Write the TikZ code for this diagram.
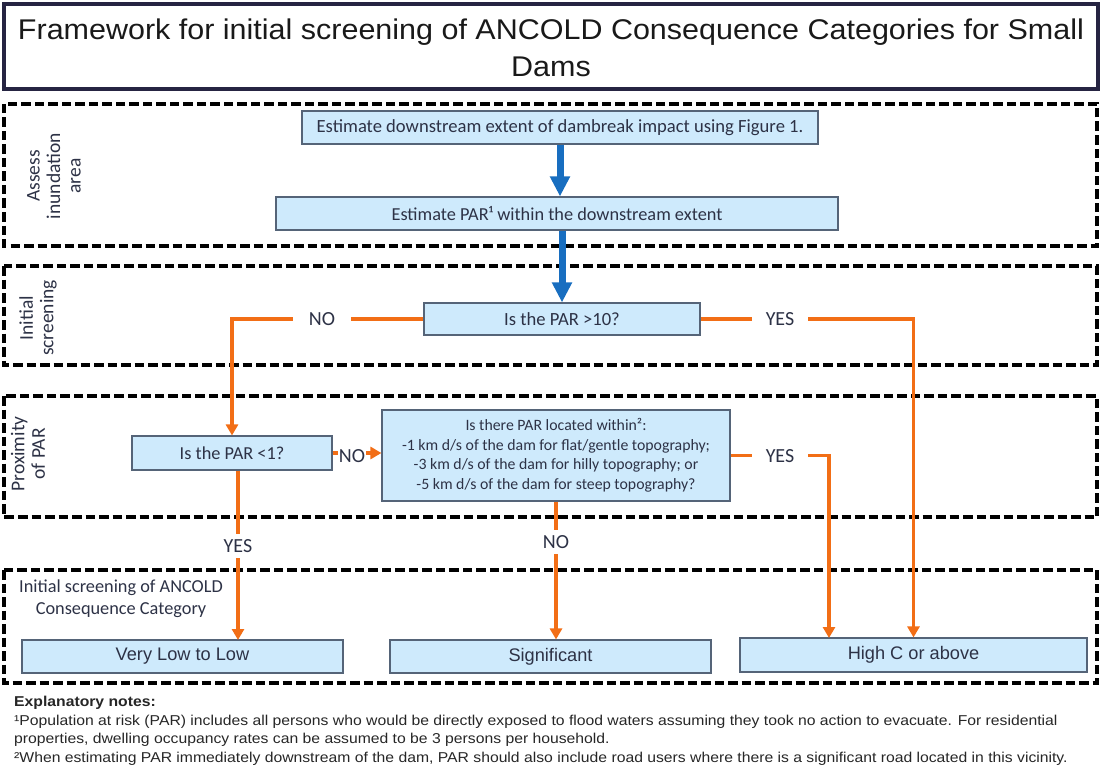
\documentclass[tikz,border=0pt]{standalone}
\usepackage{fontspec}
\setmainfont{Liberation Sans}
\newfontfamily\calfont{Carlito}
\newfontfamily\titlefont[FakeStretch=1.07]{Liberation Sans}
\newfontfamily\notefont[FakeStretch=1.1]{Liberation Sans}
\usetikzlibrary{arrows.meta}
\definecolor{boxfill}{RGB}{206,234,252}
\definecolor{boxline}{RGB}{85,100,120}
\definecolor{orng}{RGB}{242,110,22}
\definecolor{blu}{RGB}{24,110,192}
\definecolor{navy}{RGB}{38,36,66}
\definecolor{txt}{RGB}{45,50,70}
\tikzset{
  fbox/.style={draw=boxline, line width=1.1pt, fill=boxfill, inner sep=0pt, text=txt},
  zone/.style={draw=black, line width=4pt, dash pattern=on 9.5pt off 4pt},
  bluarrow/.style={draw=blu, line width=7pt, -{Triangle[width=19pt,length=20pt]}},
  orarrow/.style={draw=orng, line width=3.5pt, -{Triangle[width=12pt,length=11pt]}},
  lbl/.style={fill=white, inner ysep=1pt, text=txt, font=\calfont\fontsize{20}{24}\selectfont},
  side/.style={rotate=90, align=center, text=txt, font=\calfont\fontsize{19.5}{20.5}\selectfont},
}
\begin{document}
\begin{tikzpicture}[x=1pt,y=-1pt]
\useasboundingbox (0,0) rectangle (1101,773);
% title
\node[draw=navy, line width=4pt, minimum width=1094pt, minimum height=85.5pt, inner sep=0pt] (title) at (550.5,46.75) {};
\node[align=center, font=\titlefont\fontsize{28.5}{37}\selectfont, text=black!90] (ttext) at (551,48) {Framework for initial screening of ANCOLD Consequence Categories for Small\\Dams};
% zones
\draw[zone] (4,104) rectangle (1097,246);
\draw[zone] (4,266) rectangle (1097,365);
\draw[zone] (4,396) rectangle (1097,517);
\draw[zone] (4,570) rectangle (1097,683);
% side labels
\node[side] (s1) at (54,176) {Assess\\inundation\\area};
\node[side] (s2) at (38,318) {Initial\\screening};
\node[side] (s3) at (28,454) {Proximity\\of PAR};
\node[align=center, text=txt, font=\calfont\fontsize{18.3}{22}\selectfont] (s4) at (121,599) {Initial screening of ANCOLD\\Consequence Category};
% nodes
\node[fbox, minimum width=516pt, minimum height=33pt, font=\calfont\fontsize{18.6}{20}\selectfont] (n1) at (560,127.5) {Estimate downstream extent of dambreak impact using Figure 1.};
\node[fbox, minimum width=562pt, minimum height=33pt, font=\calfont\fontsize{18.3}{20}\selectfont] (n2) at (557,213.5) {Estimate PAR¹ within the downstream extent};
\node[fbox, minimum width=276pt, minimum height=32pt, font=\calfont\fontsize{18.6}{20}\selectfont] (n3) at (562,319) {Is the PAR >10?};
\node[fbox, minimum width=200pt, minimum height=34pt, font=\calfont\fontsize{18.3}{20}\selectfont] (n4) at (232,453) {Is the PAR <1?};
\node[fbox, minimum width=348pt, minimum height=91pt, align=center, font=\calfont\fontsize{15.8}{19.5}\selectfont] (n5) at (556,455.5) {Is there PAR located within²:\\-1 km d/s of the dam for flat/gentle topography;\\-3 km d/s of the dam for hilly topography; or\\-5 km d/s of the dam for steep topography?};
\node[fbox, minimum width=321pt, minimum height=33pt, font=\fontsize{18.2}{20}\selectfont] (n6) at (182.5,656.5) {Very Low to Low};
\node[fbox, minimum width=321pt, minimum height=33pt, font=\fontsize{18.2}{20}\selectfont] (n7) at (550.5,656.5) {Significant};
\node[fbox, minimum width=347pt, minimum height=34pt, font=\fontsize{18.2}{20}\selectfont] (n8) at (913.5,655) {High C or above};
% coordinates
\coordinate (a6) at (238,640);
\coordinate (a8) at (829,638);
% blue arrows
\draw[bluarrow] (n1.south) -- (n1.south |- n2.north);
\draw[bluarrow] (n3.north |- n2.south) -- (n3.north);
% orange arrows
\draw[orarrow] (n3.west) -| (n4.north);
\draw[orarrow] (n3.east) -| (n8.north);
\draw[orarrow] (n5.east) -| (a8);
\draw[orarrow] (a6 |- n4.south) -- (a6);
\draw[orarrow] (n5.south) -- (n5.south |- n7.north);
\draw[orarrow] (n4.east) -- (n4.east -| n5.west);
% labels
\node[lbl, inner xsep=16pt] (l1) at (322,319) {NO};
\node[lbl, inner xsep=14pt] (l2) at (780,319) {YES};
\node[lbl, inner xsep=14pt] (l3) at (780,456) {YES};
\node[lbl, inner xsep=1pt] (l4) at (352,456) {NO};
\node[lbl, inner xsep=1pt, inner ysep=5pt] (l5) at (238,546) {YES};
\node[lbl, inner xsep=1pt, inner ysep=5pt] (l6) at (556,542) {NO};
% notes
\node[anchor=north west, align=left, inner sep=0pt, font=\notefont\fontsize{14.3}{18.5}\selectfont, text=black!85] (notes) at (14,696) {\textbf{Explanatory notes:}\\
¹Population at risk (PAR) includes all persons who would be directly exposed to flood waters assuming they took no action to evacuate. For residential\\
properties, dwelling occupancy rates can be assumed to be 3 persons per household.\\
²When estimating PAR immediately downstream of the dam, PAR should also include road users where there is a significant road located in this vicinity.};
\end{tikzpicture}
\end{document}
